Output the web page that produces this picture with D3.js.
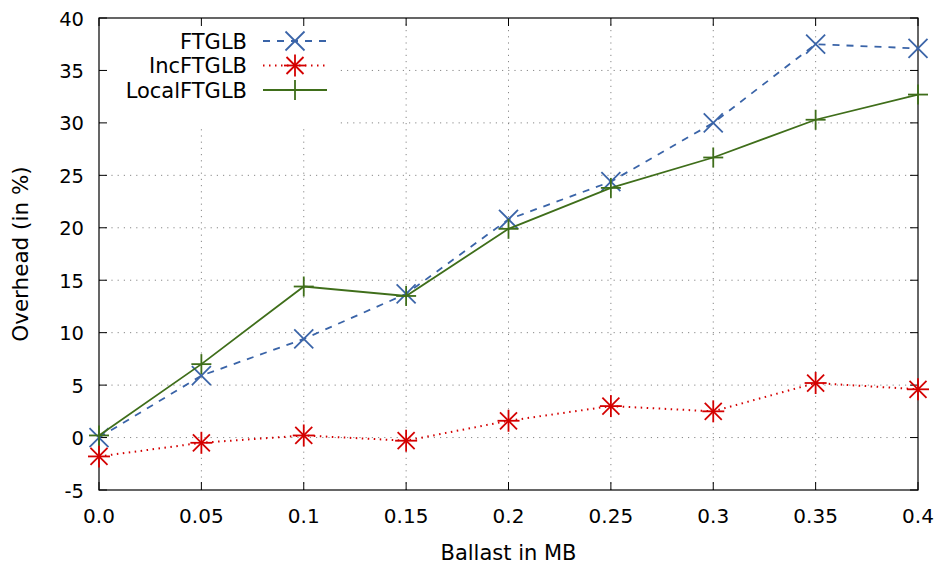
<!DOCTYPE html>
<html>
<head>
<meta charset="utf-8">
<script src="https://cdn.jsdelivr.net/npm/d3@7"></script>
<style>
  body { margin: 0; background: #fff; }
  text { font-family: "DejaVu Sans", sans-serif; fill: #000; }
</style>
</head>
<body>
<script>
var ballast = [0, 0.05, 0.1, 0.15, 0.2, 0.25, 0.3, 0.35, 0.4];
var xTickLabels = ["0.0", "0.05", "0.1", "0.15", "0.2", "0.25", "0.3", "0.35", "0.4"];
var yTicks = [-5, 0, 5, 10, 15, 20, 25, 30, 35, 40];

var ftglb      = [0.0, 5.9, 9.4, 13.7, 20.8, 24.4, 30.0, 37.5, 37.1];
var incFtglb   = [-1.8, -0.5, 0.2, -0.3, 1.6, 3.0, 2.5, 5.2, 4.6];
var localFtglb = [0.2, 7.0, 14.4, 13.5, 19.9, 23.8, 26.7, 30.3, 32.7];

var series = [
    { name: "FTGLB", values: ftglb, color: "#3a64a8", dash: "7,7", marker: "x" },
    { name: "IncFTGLB", values: incFtglb, color: "#d40000", dash: "1.5,4.5", marker: "star" },
    { name: "LocalFTGLB", values: localFtglb, color: "#3f6e1a", dash: null, marker: "plus" }
];

var w = 940, h = 570;
var margin = { left: 99, right: 22, top: 18, bottom: 80 };

var svg = d3.select("body").append("svg")
    .attr("width", w)
    .attr("height", h);

var x = d3.scaleLinear().domain([0, 0.4]).range([margin.left, w - margin.right]);
var y = d3.scaleLinear().domain([-5, 40]).range([h - margin.bottom, margin.top]);

var x0 = x.range()[0], x1 = x.range()[1];
var y0 = y.range()[0], y1 = y.range()[1];

// grid
var grid = svg.append("g").attr("stroke", "#888").attr("stroke-width", 1)
    .attr("stroke-dasharray", "1.2,5");
grid.selectAll(".gx").data(ballast.slice(1, -1)).enter().append("line")
    .attr("x1", d => x(d)).attr("x2", d => x(d))
    .attr("y1", y0).attr("y2", y1);
grid.selectAll(".gy").data(yTicks.slice(1, -1)).enter().append("line")
    .attr("x1", x0).attr("x2", x1)
    .attr("y1", d => y(d)).attr("y2", d => y(d));

// legend backdrop (opaque key)
svg.append("rect").attr("x", x0 + 1).attr("y", y1 + 1)
    .attr("width", 238).attr("height", 110).attr("fill", "#fff");

// ticks on all sides
var tl = 8;
var ticks = svg.append("g").attr("stroke", "#000").attr("stroke-width", 1);
ballast.forEach(function(d) {
    ticks.append("line").attr("x1", x(d)).attr("x2", x(d)).attr("y1", y0).attr("y2", y0 - tl);
    ticks.append("line").attr("x1", x(d)).attr("x2", x(d)).attr("y1", y1).attr("y2", y1 + tl);
});
yTicks.forEach(function(d) {
    ticks.append("line").attr("x1", x0).attr("x2", x0 + tl).attr("y1", y(d)).attr("y2", y(d));
    ticks.append("line").attr("x1", x1).attr("x2", x1 - tl).attr("y1", y(d)).attr("y2", y(d));
});

// frame
svg.append("rect").attr("x", x0).attr("y", y1)
    .attr("width", x1 - x0).attr("height", y0 - y1)
    .attr("fill", "none").attr("stroke", "#000").attr("stroke-width", 1.2);

// tick labels
svg.selectAll(".xl").data(ballast).enter().append("text")
    .attr("x", d => x(d)).attr("y", y0 + 33)
    .attr("text-anchor", "middle").attr("font-size", 20)
    .text((d, i) => xTickLabels[i]);
svg.selectAll(".yl").data(yTicks).enter().append("text")
    .attr("x", x0 - 15).attr("y", d => y(d) + 7.5)
    .attr("text-anchor", "end").attr("font-size", 19.5)
    .text(d => d);

// axis titles
svg.append("text").attr("x", (x0 + x1) / 2).attr("y", 560)
    .attr("text-anchor", "middle").attr("font-size", 21).text("Ballast in MB");
svg.append("text").attr("transform", "translate(28,254) rotate(-90)")
    .attr("text-anchor", "middle").attr("font-size", 21.5).text("Overhead (in %)");

function drawMarker(g, cx, cy, type, color) {
    var s = 9.5;
    var m = g.append("g").attr("stroke", color).attr("stroke-width", 1.8).attr("fill", "none");
    if (type === "x" || type === "star") {
        var k = type === "x" ? s : 8.5;
        m.append("line").attr("x1", cx - k).attr("y1", cy - k).attr("x2", cx + k).attr("y2", cy + k);
        m.append("line").attr("x1", cx - k).attr("y1", cy + k).attr("x2", cx + k).attr("y2", cy - k);
    }
    if (type === "plus" || type === "star") {
        var p = type === "plus" ? 10 : 11;
        m.append("line").attr("x1", cx - p).attr("y1", cy).attr("x2", cx + p).attr("y2", cy);
        m.append("line").attr("x1", cx).attr("y1", cy - p).attr("x2", cx).attr("y2", cy + p);
    }
}

var line = d3.line().x(d => x(d[0])).y(d => y(d[1]));

series.forEach(function(s) {
    var pts = ballast.map((b, i) => [b, s.values[i]]);
    svg.append("path").datum(pts)
        .attr("d", line)
        .attr("fill", "none")
        .attr("stroke", s.color)
        .attr("stroke-width", s.marker === "star" ? 2 : 1.8)
        .attr("stroke-dasharray", s.dash);
    var mg = svg.append("g");
    pts.forEach(p => drawMarker(mg, x(p[0]), y(p[1]), s.marker, s.color));
});

// legend
var legend = svg.append("g");
series.forEach(function(s, i) {
    var ly = 41 + i * 24.5;
    legend.append("text").attr("x", 247).attr("y", ly + 7.5)
        .attr("text-anchor", "end").attr("font-size", 21).text(s.name);
    legend.append("line").attr("x1", 263).attr("x2", 327)
        .attr("y1", ly).attr("y2", ly)
        .attr("stroke", s.color)
        .attr("stroke-width", s.marker === "star" ? 2 : 1.8)
        .attr("stroke-dasharray", s.dash);
    drawMarker(legend, 295, ly, s.marker, s.color);
});
</script>
</body>
</html>
